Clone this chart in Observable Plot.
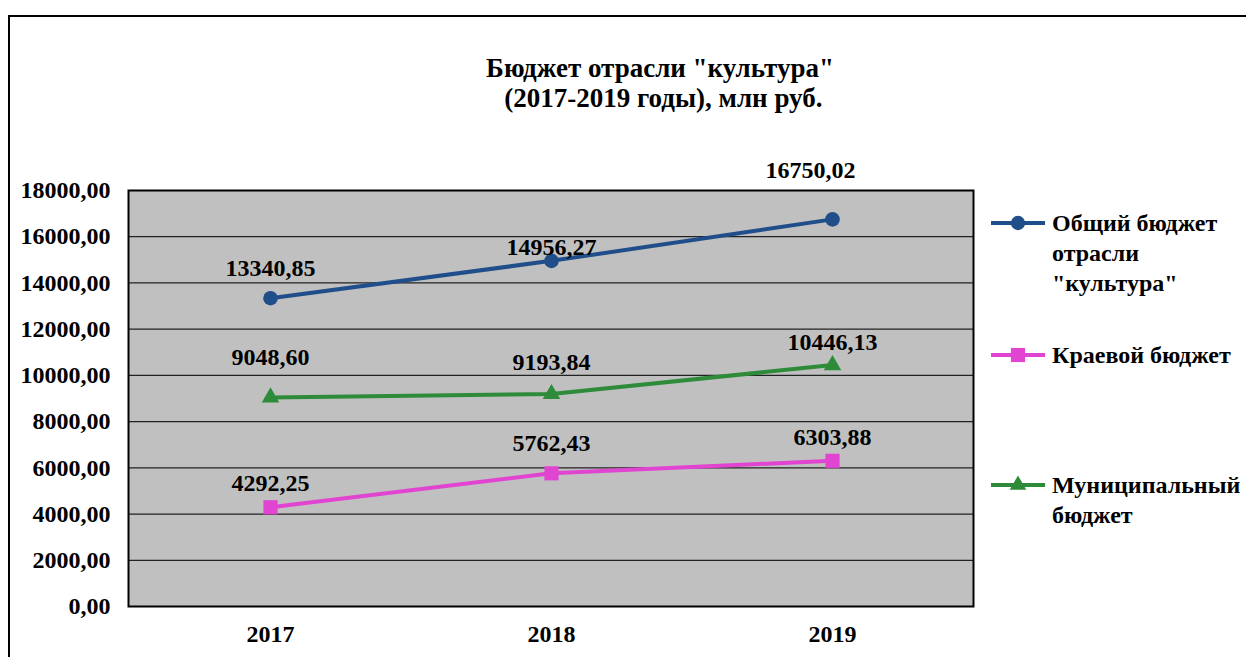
<!DOCTYPE html>
<html>
<head>
<meta charset="utf-8">
<script src="https://cdn.jsdelivr.net/npm/d3@7"></script>
<script src="https://cdn.jsdelivr.net/npm/@observablehq/plot@0.6"></script>
<style>
  html, body { margin: 0; padding: 0; background: #fff; overflow: hidden; }
  body { width: 1246px; height: 657px; position: relative; font-family: "Liberation Serif", "Times New Roman", serif; font-weight: bold; }
  #frame { position: absolute; left: 8px; top: 15px; width: 1300px; height: 700px; border: 2px solid #000; box-sizing: border-box; }
  #title { position: absolute; left: 410px; width: 500px; top: 53px; text-align: center; font-size: 27px; line-height: 30px; color: #000; white-space: pre; }
  #chart { position: absolute; left: 0; top: 0; }
  .leg { position: absolute; left: 991px; }
  .leg svg { position: absolute; left: 0; top: 0; }
  .leg .txt { position: absolute; left: 61px; top: 0; font-size: 24px; line-height: 30px; white-space: nowrap; color: #000; }
</style>
</head>
<body>
<div id="frame"></div>
<div id="title"></div>
<div id="chart"></div>
<div id="legend"></div>
<script>
// ---- data ----
const years = ["2017", "2018", "2019"];
const seriesNames = ["Общий бюджет отрасли \"культура\"", "Краевой бюджет", "Муниципальный бюджет"];
const totalBudget = [13340.85, 14956.27, 16750.02];
const regionalBudget = [4292.25, 5762.43, 6303.88];
const municipalBudget = [9048.60, 9193.84, 10446.13];
const yTicks = [0, 2000, 4000, 6000, 8000, 10000, 12000, 14000, 16000, 18000];
const titleLines = ["Бюджет отрасли \"культура\"", " (2017-2019 годы), млн руб."];
const legendLines = [["Общий бюджет", "отрасли", "\"культура\""], ["Краевой бюджет"], ["Муниципальный", "бюджет"]];

// ---- styles (kept apart from data) ----
const colors = ["#1F4E8A", "#E044D0", "#2E8B3A"];
const symbols = ["circle", "square", "triangle"];
const symbolR = [7.3, 8, 6.5];
// label offsets (dx, dy) per series per year, as placed in the original
const labelDy = [[-30, -14, -49], [-24, -30, -23], [-40, -32, -23]];
const labelDx = [[0, 0, -22], [0, 0, 0], [0, 0, 0]];

const fmt = v => v.toFixed(2).replace(".", ",");
const seriesValues = [totalBudget, regionalBudget, municipalBudget];
const rows = [];
seriesValues.forEach((vals, s) => vals.forEach((v, i) => rows.push({
  series: seriesNames[s], s, year: years[i], value: v, dx: labelDx[s][i], dy: labelDy[s][i]
})));

document.getElementById("title").textContent = titleLines.join("\n");

const font = "'Liberation Serif', 'Times New Roman', serif";
const W = 1246, H = 657;
const marks = [
  Plot.frame({fill: "#C0C0C0", stroke: null}),
  Plot.ruleY(yTicks, {stroke: "#222", strokeWidth: 1.2}),
  Plot.axisY({ticks: yTicks, tickSize: 0, tickPadding: 18, tickFormat: fmt, fontSize: 24, fontWeight: "bold", fill: "#000"}),
  Plot.axisX({tickSize: 0, tickPadding: 18, fontSize: 24, fontWeight: "bold", fill: "#000"})
];
seriesValues.forEach((vals, s) => {
  const d = rows.filter(r => r.s === s);
  marks.push(Plot.line(d, {x: "year", y: "value", stroke: colors[s], strokeWidth: 4}));
  marks.push(Plot.dot(d, {x: "year", y: "value", symbol: symbols[s], fill: colors[s], r: symbolR[s], stroke: null}));
  d.forEach(r => {
    marks.push(Plot.text([r], {x: "year", y: "value", text: r => fmt(r.value), dx: r.dx, dy: r.dy, fontSize: 24, fontWeight: "bold", fill: "#000"}));
  });
});
marks.push(Plot.frame({stroke: "#000", strokeWidth: 2}));

const plot = Plot.plot({
  width: W, height: H,
  marginLeft: 128, marginRight: W - 973, marginTop: 190, marginBottom: H - 606,
  style: {fontFamily: font, fontWeight: "bold", background: "transparent", overflow: "visible"},
  x: {type: "point", domain: years, padding: 0.5, label: null},
  y: {domain: [0, 18000], label: null},
  marks
});
document.getElementById("chart").appendChild(plot);

// ---- legend ----
const legTops = [208, 340, 470];
const legSymbols = [[d3.symbolCircle, 160], [d3.symbolSquare, 200], [d3.symbolTriangle, 120]];
const legend = document.getElementById("legend");
legendLines.forEach((lines, s) => {
  const div = document.createElement("div");
  div.className = "leg";
  div.style.top = legTops[s] + "px";
  const sym = d3.symbol(legSymbols[s][0], legSymbols[s][1])();
  div.innerHTML = `<svg width="60" height="30"><line x1="0" x2="54" y1="15" y2="15" stroke="${colors[s]}" stroke-width="4"/>` +
    `<path d="${sym}" transform="translate(27,15)" fill="${colors[s]}"/></svg>` +
    `<div class="txt">${lines.join("<br>")}</div>`;
  legend.appendChild(div);
});
</script>
</body>
</html>
